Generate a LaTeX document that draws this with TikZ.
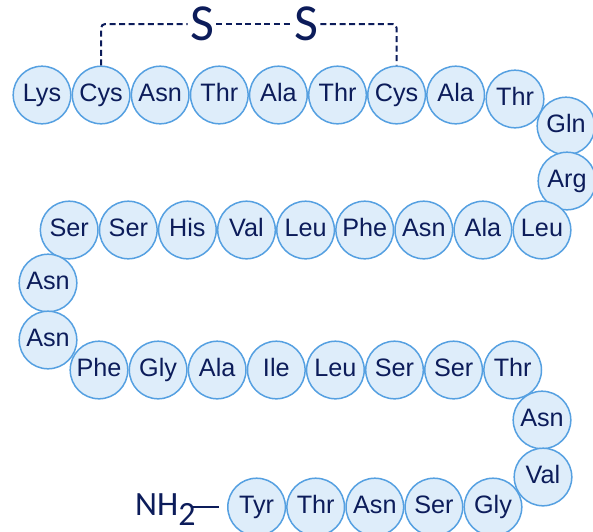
\documentclass[tikz,border=0pt]{standalone}
\usepackage{fontspec}
\setmainfont{Liberation Sans}
\newfontfamily\carlito{Carlito}
\usepackage{tikz}
\usetikzlibrary{positioning}

\definecolor{aaline}{RGB}{85,160,225}
\definecolor{aafill}{RGB}{222,237,250}
\definecolor{aatext}{RGB}{12,28,90}

\tikzset{
  aa/.style={circle, draw=aaline, fill=aafill, line width=0.75pt, minimum size=28.8pt,
    inner sep=0pt, text height=9pt, text depth=2.5pt, text=aatext,
    font=\fontsize{12.6}{14}\selectfont},
  sulfur/.style={text=aatext, inner sep=1pt, font=\carlito\fontsize{26}{28}\selectfont},
  bridge/.style={draw=aatext, line width=1pt, dash pattern=on 3pt off 1.8pt, rounded corners=2pt},
  terminal/.style={text=aatext, inner sep=0pt, font=\carlito\fontsize{17}{20}\selectfont},
  bond/.style={draw=aatext, line width=0.9pt},
}

\begin{document}
\begin{tikzpicture}[x=0.5pt, y=-0.5pt]
  \useasboundingbox (0,0) rectangle (593,531);
  \clip (0,0) rectangle (593,531);

  % nodes
  \node[aa] (a1) at (42,95) {Lys};
  \node[aa, right=0pt of a1] (a2) {Cys};
  \node[aa, right=0pt of a2] (a3) {Asn};
  \node[aa, right=0pt of a3] (a4) {Thr};
  \node[aa, right=0pt of a4] (a5) {Ala};
  \node[aa, right=0pt of a5] (a6) {Thr};
  \node[aa, right=0pt of a6] (a7) {Cys};
  \node[aa, right=0pt of a7] (a8) {Ala};
  \node[aa] (a9) at (515,99) {Thr};
  \node[aa] (a10) at (566,126) {Gln};
  \node[aa] (a11) at (567,181) {Arg};

  \node[aa] (a12) at (542,230) {Leu};
  \node[aa, left=0pt of a12] (a13) {Ala};
  \node[aa, left=0pt of a13] (a14) {Asn};
  \node[aa, left=0pt of a14] (a15) {Phe};
  \node[aa, left=0pt of a15] (a16) {Leu};
  \node[aa, left=0pt of a16] (a17) {Val};
  \node[aa, left=0pt of a17] (a18) {His};
  \node[aa, left=0pt of a18] (a19) {Ser};
  \node[aa, left=0pt of a19] (a20) {Ser};
  \node[aa] (a21) at (48,283) {Asn};
  \node[aa] (a22) at (48,340) {Asn};

  \node[aa] (a23) at (99,370) {Phe};
  \node[aa, right=0pt of a23] (a24) {Gly};
  \node[aa, right=0pt of a24] (a25) {Ala};
  \node[aa, right=0pt of a25] (a26) {Ile};
  \node[aa, right=0pt of a26] (a27) {Leu};
  \node[aa, right=0pt of a27] (a28) {Ser};
  \node[aa, right=0pt of a28] (a29) {Ser};
  \node[aa, right=0pt of a29] (a30) {Thr};
  \node[aa] (a31) at (542,420) {Asn};
  \node[aa] (a32) at (543,477) {Val};

  \node[aa] (a33) at (493,507) {Gly};
  \node[aa, left=0pt of a33] (a34) {Ser};
  \node[aa, left=0pt of a34] (a35) {Asn};
  \node[aa, left=0pt of a35] (a36) {Thr};
  \node[aa, left=0pt of a36] (a37) {Tyr};

  \node[terminal, anchor=base east] (nh) at (196,515) {NH\raisebox{-5pt}{2}};

  \node[sulfur] (s1) at (202,24) {S};
  \node[sulfur] (s2) at (306,24) {S};

  % edges
  \draw[bridge] (a2.north) |- (s1.west);
  \draw[bridge] (s1.east) -- (s2.west);
  \draw[bridge] (s2.east) -| (a7.north);
  \draw[bond, shorten <=-2pt, shorten >=4pt] (nh.east |- a37.west) -- (a37.west);
\end{tikzpicture}
\end{document}
